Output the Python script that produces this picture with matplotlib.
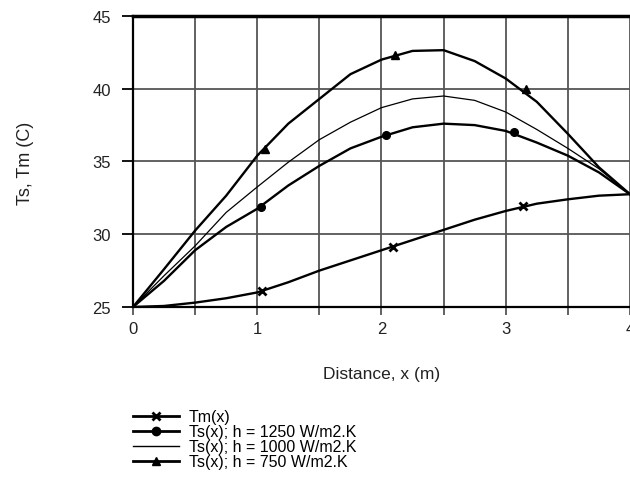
import numpy as np
import matplotlib
matplotlib.use("Agg")
import matplotlib.pyplot as plt
from matplotlib.lines import Line2D

plt.rcParams["font.family"] = ["Liberation Sans", "DejaVu Sans"]

# ---------------- data ----------------
x_pos = [0, 0.25, 0.5, 0.75, 1.0, 1.25, 1.5, 1.75, 2.0,
         2.25, 2.5, 2.75, 3.0, 3.25, 3.5, 3.75, 4.0]

tm_vals = [25.0, 25.07, 25.3, 25.6, 26.0, 26.7, 27.5, 28.2, 28.9,
           29.6, 30.3, 31.0, 31.6, 32.1, 32.4, 32.65, 32.75]
ts_1250 = [25.0, 26.8, 28.9, 30.5, 31.75, 33.35, 34.7, 35.9, 36.7,
           37.35, 37.6, 37.5, 37.1, 36.3, 35.4, 34.25, 32.75]
ts_1000 = [25.0, 27.15, 29.2, 31.5, 33.25, 34.95, 36.5, 37.7, 38.7,
           39.3, 39.5, 39.2, 38.4, 37.2, 35.9, 34.5, 32.75]
ts_750 = [25.0, 27.6, 30.25, 32.65, 35.4, 37.6, 39.3, 41.0, 42.0,
          42.6, 42.65, 41.9, 40.7, 39.1, 36.9, 34.6, 32.75]

# marker positions
tm_mx = [1.04, 2.09, 3.135]
tm_my = [26.1, 29.1, 31.95]
h1250_mx = [1.03, 2.04, 3.07]
h1250_my = [31.9, 36.8, 37.0]
h750_mx = [1.06, 2.11, 3.16]
h750_my = [35.85, 42.35, 40.0]

labels = ["Tm(x)", "Ts(x); h = 1250 W/m2.K",
          "Ts(x); h = 1000 W/m2.K", "Ts(x); h = 750 W/m2.K"]

# ---------------- figure ----------------
fig = plt.figure(figsize=(6.3, 4.81), dpi=100)
ax = fig.add_axes([0.2111, 0.3597, 0.7889, 0.605])

txt_col = "#222222"
grid_col = "#555555"

ax.plot(x_pos, tm_vals, color="black", lw=1.7)
ax.plot(tm_mx, tm_my, ls="none", marker="x", ms=6, mew=2, color="black")
ax.plot(x_pos, ts_1250, color="black", lw=1.7)
ax.plot(h1250_mx, h1250_my, ls="none", marker="o", ms=5.5, color="black")
ax.plot(x_pos, ts_1000, color="black", lw=0.9)
ax.plot(x_pos, ts_750, color="black", lw=1.7)
ax.plot(h750_mx, h750_my, ls="none", marker="^", ms=5.5, color="black")

ax.set_xlim(0, 4)
ax.set_ylim(25, 45)
ax.set_xticks([0, 1, 2, 3, 4])
ax.set_xticks(np.arange(0.5, 4, 1.0), minor=True)
ax.set_yticks([25, 30, 35, 40, 45])

ax.grid(True, which="both", color=grid_col, lw=1.3)
ax.set_axisbelow(True)
ax.tick_params(axis="x", which="both", direction="out", length=6,
               width=1.3, color=grid_col, labelsize=12, labelcolor=txt_col, pad=4)
ax.tick_params(axis="y", direction="out", length=8, width=1.3,
               color="black", labelsize=12, labelcolor=txt_col, pad=8)

for side in ["left", "bottom"]:
    ax.spines[side].set_linewidth(1.6)
ax.spines["top"].set_linewidth(2.5)
ax.spines["right"].set_visible(False)

ax.set_xlabel("Distance, x (m)", fontsize=12.5, color=txt_col, labelpad=22)
fig.text(0.041, 0.66, "Ts, Tm (C)", rotation=90, ha="center", va="center",
         fontsize=13, color=txt_col)

# legend
handles = [
    Line2D([], [], color="black", lw=2, marker="x", ms=6, mew=2),
    Line2D([], [], color="black", lw=2, marker="o", ms=6),
    Line2D([], [], color="black", lw=1),
    Line2D([], [], color="black", lw=2, marker="^", ms=6),
]
fig.legend(handles, labels, loc="upper left", bbox_to_anchor=(0.211, 0.147),
           frameon=False, fontsize=11.5, handlelength=2.9, handletextpad=0.6,
           labelspacing=0.0, borderpad=0, borderaxespad=0)

fig.savefig("out.png", dpi=100)
